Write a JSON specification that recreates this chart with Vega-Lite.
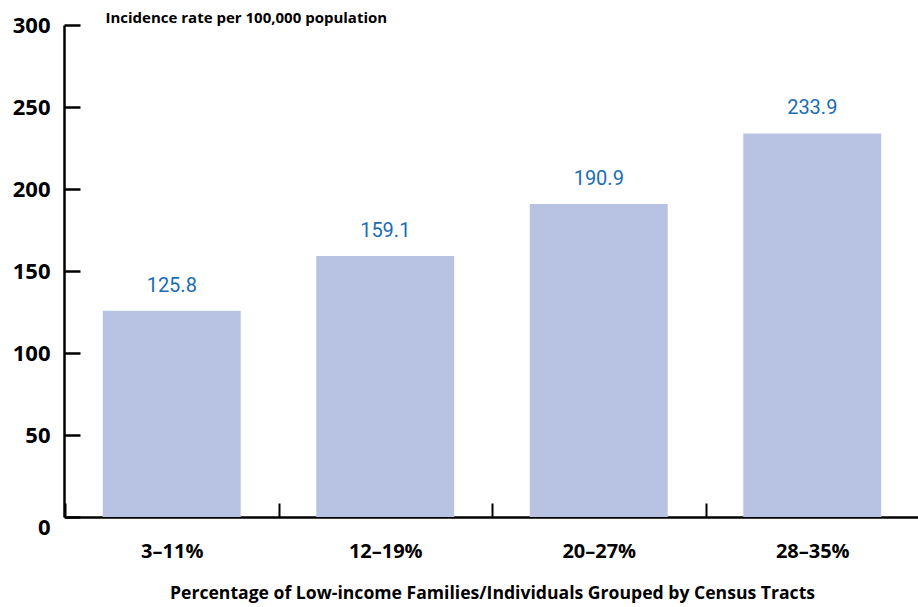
{
  "$schema": "https://vega.github.io/schema/vega-lite/v6.json",
  "autosize": {"type": "none"},
  "width": 854,
  "height": 492,
  "padding": {"left": 64, "top": 25, "right": 0, "bottom": 90},
  "background": "white",
  "config": {"view": {"stroke": null}},
  "data": {"values": [
    {"group": "3–11%", "rate": 125.8},
    {"group": "12–19%", "rate": 159.1},
    {"group": "20–27%", "rate": 190.9},
    {"group": "28–35%", "rate": 233.9}
  ]},
  "encoding": {
    "x": {"field": "group", "type": "nominal", "sort": null,
      "scale": {"paddingInner": 0, "paddingOuter": 0, "range": [1, 855]},
      "axis": {"title": "Percentage of Low-income Families/Individuals Grouped by Census Tracts",
        "labelAngle": 0, "labelFont": "Open Sans", "labelFontSize": 20, "labelFontWeight": "bold", "labelColor": "black",
        "labelPadding": 38, "tickBand": "extent",
        "tickSize": -14, "tickWidth": 2, "tickColor": "black",
        "domainColor": "black", "domainWidth": 2.5,
        "titleFont": "Open Sans", "titleFontSize": 17.6, "titleFontWeight": "bold", "titleColor": "black", "titlePadding": 23}},
    "y": {"field": "rate", "type": "quantitative",
      "scale": {"domain": [0, 300], "nice": false},
      "axis": {"values": [0, 50, 100, 150, 200, 250, 300], "grid": false,
        "title": "Incidence rate per 100,000 population", "titleAngle": 0, "titleX": 41, "titleY": -8,
        "titleAlign": "left", "titleBaseline": "middle", "titleFont": "Open Sans", "titleFontSize": 15, "titleFontWeight": "bold", "titleColor": "black",
        "labelFont": "Open Sans", "labelFontSize": 22, "labelFontWeight": "bold", "labelColor": "black", "labelPadding": 30,
        "labelBaseline": {"condition": {"test": "datum.value === 0", "value": "top"}, "value": "middle"},
        "tickSize": -16, "tickWidth": 2.5, "tickColor": "black", "domainColor": "black", "domainWidth": 2.5}}
  },
  "layer": [
    {"mark": {"type": "bar", "color": "#b8c3e3", "width": {"band": 0.646}}},
    {"mark": {"type": "text", "baseline": "bottom", "dy": -15, "font": "Roboto", "fontSize": 20, "color": "#1a6cb4"},
     "encoding": {"text": {"field": "rate", "type": "quantitative", "format": ".1f"}}}
  ]
}
